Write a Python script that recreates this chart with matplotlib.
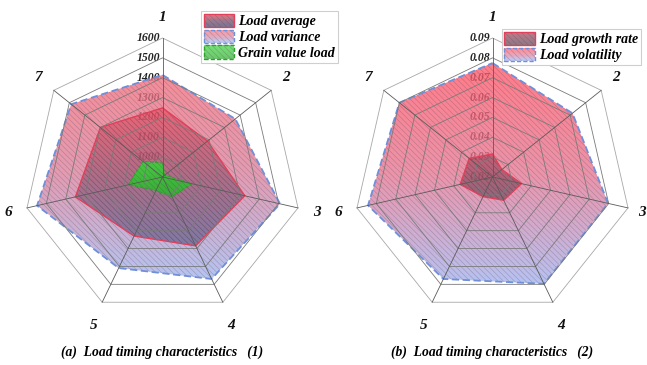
import numpy as np
import matplotlib
matplotlib.use('Agg')
import matplotlib.pyplot as plt
from matplotlib.patches import Polygon, Rectangle
from matplotlib.colors import LinearSegmentedColormap
from matplotlib.legend_handler import HandlerBase

plt.rcParams['font.family'] = ['Liberation Serif', 'DejaVu Serif']
plt.rcParams['hatch.linewidth'] = 0.35

# ---- data ----
axis_labels = ['1', '2', '3', '4', '5', '6', '7']

load_average = [1248, 1190, 1325, 1285, 1230, 1350, 1300]
load_variance = [1414, 1369, 1507, 1470, 1409, 1548, 1488]
grain_value_load = [970, 915, 1052, 1011, 975, 1077, 1026]
ticks_a = [1000, 1100, 1200, 1300, 1400, 1500, 1600]
range_a = (900, 1600)

load_growth_rate = [0.0316, 0.026, 0.035, 0.033, 0.031, 0.0367, 0.035]
load_volatility = [0.0774, 0.0715, 0.0797, 0.0797, 0.077, 0.0843, 0.080]
ticks_b = [0.02, 0.03, 0.04, 0.05, 0.06, 0.07, 0.08, 0.09]
range_b = (0.02, 0.09)

n = len(axis_labels)
theta = np.pi / 2 - np.arange(n) * 2 * np.pi / n


def to_xy(vals, rng):
    r = (np.asarray(vals, float) - rng[0]) / (rng[1] - rng[0])
    r = np.clip(r, 0, None)
    return np.column_stack([r * np.cos(theta), r * np.sin(theta)])


cm_var = LinearSegmentedColormap.from_list('var', ['#f2707e', '#da84a0', '#a2b6ee'])
cm_avg = LinearSegmentedColormap.from_list('avg', ['#e8384c', '#7a3f5a', '#3c3c6a'])
cm_vol = LinearSegmentedColormap.from_list('vol', ['#ff5a6a', '#e67a95', '#a4b4ee'])
cm_grw = LinearSegmentedColormap.from_list('grw', ['#a84058', '#5e4050'])
cm_grn = LinearSegmentedColormap.from_list('grn', ['#3cd23c', '#30b030'])


def grad_poly(ax, pts, cmap, alpha, edge, ls='-', lw=1.0, hatch_col=(0.3, 0.2, 0.3, 0.35), z=2):
    y0, y1 = pts[:, 1].min(), pts[:, 1].max()
    x0, x1 = pts[:, 0].min(), pts[:, 0].max()
    clip = Polygon(pts, closed=True, facecolor='none', edgecolor='none', transform=ax.transData)
    ax.add_patch(clip)
    grad = np.linspace(0, 1, 256).reshape(-1, 1)
    im = ax.imshow(grad, extent=[x0, x1, y0, y1], origin='upper', cmap=cmap,
                   aspect='auto', alpha=alpha, zorder=z, interpolation='bilinear')
    im.set_clip_path(clip)
    ax.add_patch(Polygon(pts, closed=True, facecolor='none', edgecolor=hatch_col,
                         hatch='\\\\\\\\\\\\', linewidth=0, zorder=z + 0.1))
    ax.add_patch(Polygon(pts, closed=True, facecolor='none', edgecolor=edge,
                         linewidth=lw, linestyle=ls, zorder=z + 0.2))


def draw_grid(ax, nring, right_edge=None):
    for k in range(1, nring + 1):
        rr = k / nring
        ring = np.column_stack([rr * np.cos(theta), rr * np.sin(theta)])
        ax.add_patch(Polygon(ring, closed=True, facecolor='none',
                             edgecolor='#7a7a7a' if k < nring else '#a8a8a8',
                             linewidth=0.6, zorder=5))
    for t in theta:
        ax.plot([0, np.cos(t)], [0, np.sin(t)], color='#5a5a5a', lw=0.6, zorder=5)
    for t, lab in zip(theta, axis_labels):
        x = 1.14 * np.cos(t)
        y = 1.15 * np.sin(t) + (-0.03 if np.sin(t) < -0.5 else 0)
        if right_edge is not None:
            x = min(x, right_edge)
        ax.text(x, y, lab, ha='center', va='center', fontsize=11,
                fontweight='bold', fontstyle='italic', color='#111111')


class GradHandler(HandlerBase):
    def __init__(self, cmap, edge, ls='-'):
        super().__init__()
        self.cmap, self.edge, self.ls = cmap, edge, ls

    def create_artists(self, legend, orig_handle, xdescent, ydescent, width, height, fontsize, trans):
        arts = []
        m = 10
        x0, y0 = -xdescent, -ydescent
        for i in range(m):
            arts.append(Rectangle((x0, y0 + height * (m - 1 - i) / m), width, height / m,
                                  facecolor=self.cmap(i / (m - 1)), alpha=0.7,
                                  edgecolor='none', transform=trans))
        arts.append(Rectangle((x0, y0), width, height, facecolor='none',
                              edgecolor=(0.3, 0.2, 0.3, 0.35), hatch='\\\\\\\\\\\\',
                              linewidth=0, transform=trans))
        arts.append(Rectangle((x0, y0), width, height, facecolor='none',
                              edgecolor=self.edge, linestyle=self.ls, linewidth=1.0,
                              transform=trans))
        return arts


fig = plt.figure(figsize=(6.47, 3.65), dpi=100)
S = 139.0
ylim = (-(365 - 177) / S, 177 / S)
leg_kw = dict(prop={'size': 10, 'weight': 'bold', 'style': 'italic'},
              frameon=True, fancybox=False, edgecolor='#cfcfcf', framealpha=1,
              handlelength=2.2, handleheight=1.1, labelspacing=0.1,
              borderpad=0.2, handletextpad=0.3, borderaxespad=0)

# ---- (a) ----
axa = fig.add_axes([0, 0, 325 / 647, 1])
axa.set_xlim(-162.5 / S, (325 - 162.5) / S)
axa.set_ylim(*ylim)
axa.axis('off')

for tv in ticks_a:
    r = (tv - range_a[0]) / (range_a[1] - range_a[0])
    axa.text(-0.02, r, str(tv), ha='right', va='center', fontsize=8.5,
             fontweight='bold', fontstyle='italic', color='#222222', zorder=1)

p_var = to_xy(load_variance, range_a)
p_avg = to_xy(load_average, range_a)
p_grn = to_xy(grain_value_load, range_a)
grad_poly(axa, p_var, cm_var, 0.8, '#6f8fd8', ls=(0, (4, 2)), lw=1.3, z=2)
grad_poly(axa, p_avg, cm_avg, 0.5, '#e0405a', lw=1.0, z=3)
grad_poly(axa, p_grn, cm_grn, 0.9, '#2ea02e', ls=(0, (3, 1.5)), lw=0.8,
          hatch_col=(0.1, 0.4, 0.1, 0.35), z=4)
draw_grid(axa, 7)

axa.text(0, -1.26, '(a)  Load timing characteristics   (1)', ha='center', va='center',
         fontsize=9.8, fontweight='bold', fontstyle='italic')

hA = [Rectangle((0, 0), 1, 1, label=l) for l in ['Load average', 'Load variance', 'Grain value load']]
legA = fig.legend(handles=hA, loc='upper right', bbox_to_anchor=(338 / 647, 1 - 11 / 365),
                  handler_map={hA[0]: GradHandler(cm_avg, '#e0405a'),
                               hA[1]: GradHandler(cm_var, '#6f8fd8', ls=(0, (3, 1.5))),
                               hA[2]: GradHandler(cm_grn, '#2ea02e', ls=(0, (3, 1.5)))},
                  **leg_kw)
legA.get_frame().set_linewidth(0.8)

# ---- (b) ----
axb = fig.add_axes([330 / 647, 0, 317 / 647, 1])
axb.set_xlim(-162.5 / S, (317 - 162.5) / S)
axb.set_ylim(*ylim)
axb.axis('off')

for tv in ticks_b:
    r = (tv - range_b[0]) / (range_b[1] - range_b[0])
    axb.text(-0.02, r, f'{tv:.2f}', ha='right', va='center', fontsize=8.5,
             fontweight='bold', fontstyle='italic', color='#222222', zorder=1)

p_vol = to_xy(load_volatility, range_b)
p_grw = to_xy(load_growth_rate, range_b)
grad_poly(axb, p_vol, cm_vol, 0.8, '#6f8fd8', ls=(0, (4, 2)), lw=1.3, z=2)
grad_poly(axb, p_grw, cm_grw, 0.6, '#e0405a', lw=1.0, z=3)
draw_grid(axb, 7, right_edge=(317 - 168) / S)

axb.text(0, -1.26, '(b)  Load timing characteristics   (2)', ha='center', va='center',
         fontsize=9.8, fontweight='bold', fontstyle='italic')

hB = [Rectangle((0, 0), 1, 1, label=l) for l in ['Load growth rate', 'Load volatility']]
legB = fig.legend(handles=hB, loc='upper right', bbox_to_anchor=(641 / 647, 1 - 29 / 365),
                  handler_map={hB[0]: GradHandler(cm_grw, '#e0405a'),
                               hB[1]: GradHandler(cm_vol, '#6f8fd8', ls=(0, (3, 1.5)))},
                  **leg_kw)
legB.get_frame().set_linewidth(0.8)

fig.savefig('out.png', dpi=100)
